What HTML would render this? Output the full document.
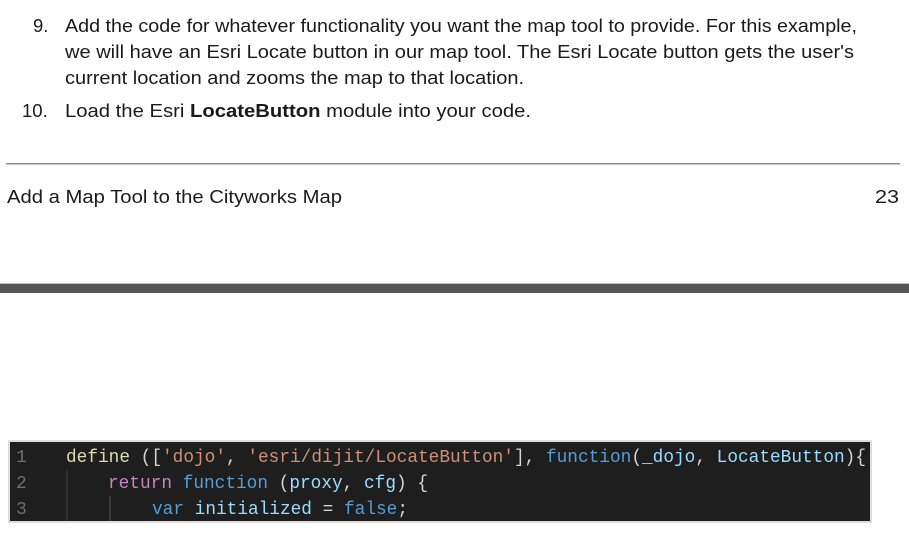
<!DOCTYPE html>
<html><head><meta charset="utf-8"><style>
html,body{margin:0;padding:0;background:#fff;width:909px;height:546px;overflow:hidden}
svg{display:block}
.t{font-family:"Liberation Sans",Arial,sans-serif;font-size:18.5px;fill:#1a1a1a}
.c{font-family:"Liberation Mono","DejaVu Sans Mono",monospace;font-size:18px}
</style></head><body>
<svg width="909" height="546" xmlns="http://www.w3.org/2000/svg">
<text class="t" x="33" y="32">9.</text>
<text class="t" x="65" y="32" textLength="792" lengthAdjust="spacingAndGlyphs">Add the code for whatever functionality you want the map tool to provide. For this example,</text>
<text class="t" x="65" y="58" textLength="789" lengthAdjust="spacingAndGlyphs">we will have an Esri Locate button in our map tool. The Esri Locate button gets the user's</text>
<text class="t" x="65" y="84" textLength="459" lengthAdjust="spacingAndGlyphs">current location and zooms the map to that location.</text>
<text class="t" x="22" y="117">10.</text>
<text class="t" x="65" y="117" textLength="466" lengthAdjust="spacingAndGlyphs">Load the Esri <tspan font-weight="bold">LocateButton</tspan> module into your code.</text>
<rect x="6" y="163" width="894" height="1.5" fill="#8c8c8c"/>
<text class="t" x="7" y="203" textLength="335" lengthAdjust="spacingAndGlyphs">Add a Map Tool to the Cityworks Map</text>
<text class="t" x="875" y="203" textLength="24" lengthAdjust="spacingAndGlyphs">23</text>
<rect x="0" y="283" width="909" height="1" fill="#bbb"/>
<rect x="0" y="284" width="909" height="9" fill="#555"/>
<rect x="10" y="442" width="860" height="79" fill="#1e1e1e"/>
<rect x="9" y="441" width="862" height="81" fill="none" stroke="#bbb" stroke-width="1"/>
<line x1="67" y1="470" x2="67" y2="521" stroke="#404040" stroke-width="1"/>
<line x1="110" y1="496" x2="110" y2="521" stroke="#555" stroke-width="1"/>
<text class="c" x="16" y="462" fill="#6e6e6e">1</text>
<text class="c" x="16" y="488" fill="#6e6e6e">2</text>
<text class="c" x="16" y="514" fill="#6e6e6e">3</text>
<text class="c" x="66" y="462" textLength="800" lengthAdjust="spacingAndGlyphs"><tspan fill="#dcdcaa">define</tspan><tspan fill="#d4d4d4"> ([</tspan><tspan fill="#ce9178">'dojo'</tspan><tspan fill="#d4d4d4">, </tspan><tspan fill="#ce9178">'esri/dijit/LocateButton'</tspan><tspan fill="#d4d4d4">], </tspan><tspan fill="#569cd6">function</tspan><tspan fill="#d4d4d4">(</tspan><tspan fill="#9cdcfe">_dojo</tspan><tspan fill="#d4d4d4">, </tspan><tspan fill="#9cdcfe">LocateButton</tspan><tspan fill="#d4d4d4">){</tspan></text>
<text class="c" x="108" y="488" textLength="320" lengthAdjust="spacingAndGlyphs"><tspan fill="#c586c0">return</tspan><tspan fill="#d4d4d4"> </tspan><tspan fill="#569cd6">function</tspan><tspan fill="#d4d4d4"> (</tspan><tspan fill="#9cdcfe">proxy</tspan><tspan fill="#d4d4d4">, </tspan><tspan fill="#9cdcfe">cfg</tspan><tspan fill="#d4d4d4">) {</tspan></text>
<text class="c" x="152" y="514" textLength="256" lengthAdjust="spacingAndGlyphs"><tspan fill="#569cd6">var</tspan><tspan fill="#d4d4d4"> </tspan><tspan fill="#9cdcfe">initialized</tspan><tspan fill="#d4d4d4"> = </tspan><tspan fill="#569cd6">false</tspan><tspan fill="#d4d4d4">;</tspan></text>
</svg>
</body></html>
